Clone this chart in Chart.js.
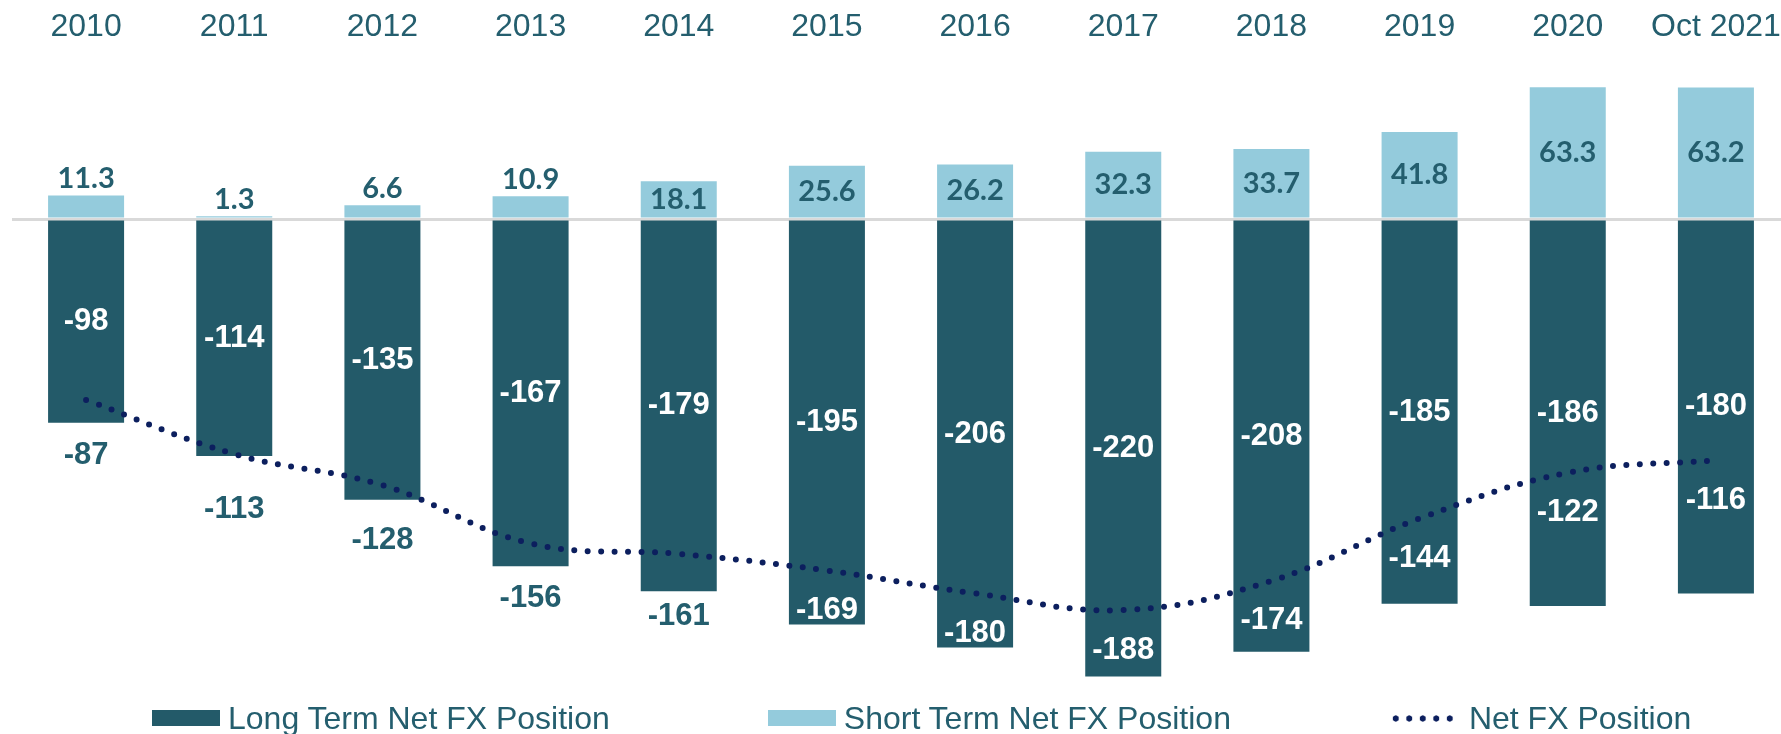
<!DOCTYPE html>
<html>
<head>
<meta charset="utf-8">
<script src="https://cdn.jsdelivr.net/npm/chart.js@4.4.0/dist/chart.umd.min.js"></script>
<style>
  html, body { margin: 0; padding: 0; background: #fff; overflow: hidden; }
  #wrap { position: relative; width: 1792px; height: 734px; }
  #legend {
    position: absolute; left: 152px; top: 700px; height: 36px;
    display: flex; align-items: center;
    font: 32px "Liberation Sans", Arial, sans-serif; line-height: 36px; color: #245e6e;
  }
  .item { display: flex; align-items: center; margin-right: 158px; }
  .swatch { width: 68px; height: 16px; margin-right: 8px; }
  .dots {
    width: 66px; height: 7px; margin-right: 14px;
    background: radial-gradient(circle, #0c1f5e 2.8px, transparent 3.4px) repeat-x;
    background-size: 13.5px 7px;
  }
</style>
</head>
<body>
<div id="wrap">
  <canvas id="chart" width="1792" height="734"></canvas>
  <div id="legend"></div>
</div>
<script>
const categories = ['2010', '2011', '2012', '2013', '2014', '2015', '2016', '2017', '2018', '2019', '2020', 'Oct 2021'];
const longTerm = [-98, -114, -135, -167, -179, -195, -206, -220, -208, -185, -186, -180];
const shortTerm = [11.3, 1.3, 6.6, 10.9, 18.1, 25.6, 26.2, 32.3, 33.7, 41.8, 63.3, 63.2];
const netFx = [-87, -113, -128, -156, -161, -169, -180, -188, -174, -144, -122, -116];
const seriesNames = ['Long Term Net FX Position', 'Short Term Net FX Position', 'Net FX Position'];

const DARK = '#235a69';
const LIGHT = '#94cbdc';
const NAVY = '#0c1f5e';
const TEXT = '#245e6e';

// labels drawn on top of the bars and along the net line
const valueLabels = {
  id: 'valueLabels',
  afterDatasetsDraw(chart) {
    const ctx = chart.ctx;
    const longBars = chart.getDatasetMeta(0).data;
    const shortBars = chart.getDatasetMeta(1).data;
    const netPts = chart.getDatasetMeta(2).data;
    ctx.save();
    ctx.textAlign = 'center';
    ctx.textBaseline = 'middle';

    ctx.font = 'bold 31px "Liberation Sans", Arial, sans-serif';
    ctx.fillStyle = '#ffffff';
    longBars.forEach((bar, i) => {
      ctx.fillText(String(longTerm[i]), bar.x, (bar.y + bar.base) / 2);
    });

    ctx.font = 'bold 29px Lato, "Open Sans", sans-serif';
    ctx.fillStyle = TEXT;
    shortBars.forEach((bar, i) => {
      const h = bar.base - bar.y;
      const y = h < 30 ? bar.y - 17 : (bar.y + bar.base) / 2;
      ctx.fillText(shortTerm[i].toFixed(1), bar.x, y);
    });

    // net value: white inside the long bar if it fits, otherwise teal under it
    ctx.font = 'bold 31px "Liberation Sans", Arial, sans-serif';
    netPts.forEach((pt, i) => {
      const bottom = longBars[i].y;
      let y = pt.y + 40;
      if (y + 14 < bottom) {
        ctx.fillStyle = '#ffffff';
      } else {
        y = Math.max(pt.y + 55, bottom + 25);
        ctx.fillStyle = TEXT;
      }
      ctx.fillText(String(netFx[i]), pt.x, y);
    });
    ctx.restore();
  }
};

function buildLegend() {
  const box = document.getElementById('legend');
  const swatches = [DARK, LIGHT, null];
  seriesNames.forEach((name, i) => {
    const item = document.createElement('div');
    item.className = 'item';
    if (i === seriesNames.length - 1) item.style.marginRight = '0';
    const mark = document.createElement('span');
    if (swatches[i]) {
      mark.className = 'swatch';
      mark.style.background = swatches[i];
    } else {
      mark.className = 'dots';
    }
    const txt = document.createElement('span');
    txt.textContent = name;
    item.appendChild(mark);
    item.appendChild(txt);
    box.appendChild(item);
  });
}

function draw() {
  new Chart(document.getElementById('chart'), {
    type: 'bar',
    data: {
      labels: categories,
      datasets: [
        {
          label: seriesNames[0],
          data: longTerm,
          backgroundColor: DARK,
          borderWidth: 0,
          stack: 'fx',
          order: 1,
          barPercentage: 0.513,
          categoryPercentage: 1
        },
        {
          label: seriesNames[1],
          data: shortTerm,
          backgroundColor: LIGHT,
          borderWidth: 0,
          stack: 'fx',
          order: 1,
          barPercentage: 0.513,
          categoryPercentage: 1
        },
        {
          type: 'line',
          label: seriesNames[2],
          data: netFx,
          borderColor: NAVY,
          borderWidth: 6,
          borderDash: [0, 13.5],
          borderCapStyle: 'round',
          pointRadius: 0,
          tension: 0.4,
          fill: false,
          stack: 'net',
          order: 0
        }
      ]
    },
    options: {
      responsive: false,
      animation: false,
      layout: { padding: { top: 0, left: 12, right: 2, bottom: 15.8 } },
      plugins: {
        legend: { display: false },
        tooltip: { enabled: false }
      },
      scales: {
        x: {
          position: 'top',
          stacked: true,
          offset: true,
          grid: { display: false, drawTicks: false },
          border: { display: false },
          ticks: {
            color: TEXT,
            font: { family: '"Liberation Sans", Arial, sans-serif', size: 32 },
            padding: 6,
            maxRotation: 0,
            autoSkip: false
          },
          afterFit(scale) { scale.height = 52.6; }
        },
        y: {
          stacked: true,
          min: -240,
          max: 80,
          ticks: { display: false, stepSize: 20 },
          border: { display: false },
          grid: {
            drawTicks: false,
            lineWidth: 3,
            color: c => (c.tick && c.tick.value === 0) ? '#d9d9d9' : 'rgba(0,0,0,0)'
          }
        }
      }
    },
    plugins: [valueLabels]
  });
}

buildLegend();
Promise.all([
  document.fonts.load('bold 29px Lato'),
  document.fonts.load('bold 31px "Liberation Sans"'),
  document.fonts.load('32px "Liberation Sans"')
]).then(draw, draw);
</script>
</body>
</html>
